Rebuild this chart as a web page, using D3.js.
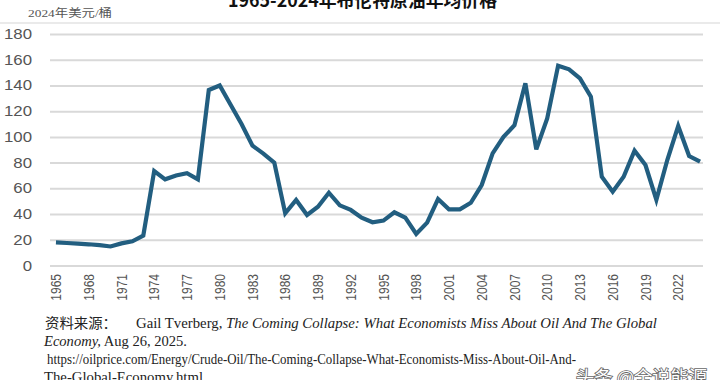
<!DOCTYPE html>
<html><head><meta charset="utf-8">
<script src="https://cdn.jsdelivr.net/npm/d3@7/dist/d3.min.js"></script>
<style>
html,body{margin:0;padding:0;background:#fff;}
svg{display:block;}
</style></head>
<body>
<svg id="chart" width="720" height="380"></svg>
<script>
const years = [1965,1966,1967,1968,1969,1970,1971,1972,1973,1974,1975,1976,1977,1978,1979,
  1980,1981,1982,1983,1984,1985,1986,1987,1988,1989,1990,1991,1992,1993,1994,
  1995,1996,1997,1998,1999,2000,2001,2002,2003,2004,2005,2006,2007,2008,2009,
  2010,2011,2012,2013,2014,2015,2016,2017,2018,2019,2020,2021,2022,2023,2024];
const prices = [18.0,17.5,17.0,16.5,15.8,14.8,17.2,18.8,23.2,73.5,67,70,71.7,67,136.5,
  140,125,110,93.2,87,80,40.6,51,39.3,45.7,56.6,46.8,43.2,37.2,33.6,
  34.9,41.4,37.2,24.5,33.3,51.7,43.7,43.7,48.8,62.6,87.2,100,109,141.7,90.3,
  114.4,155.4,152.5,145.5,131.3,69,57.4,69,89.3,78.1,51,82,108.5,85.1,80.7];
const xTickYears = [1965,1968,1971,1974,1977,1980,1983,1986,1989,1992,1995,1998,2001,2004,2007,2010,2013,2016,2019,2022];
const yTicks = [0,20,40,60,80,100,120,140,160,180];
const titleText = "1965-2024年布伦特原油年均价格";
const unitText = "2024年美元/桶";
const sourceLabel = "资料来源：";
const watermark = "头条 @全说能源";

const svg = d3.select("#chart");
const x = d3.scaleBand().domain(years).range([50.5, 705.5]).padding(0);
const xc = d => x(d) + x.bandwidth()/2;
const y = d3.scaleLinear().domain([0,180]).range([265.5, 34]);

// top separator line
svg.append("line").attr("x1",0).attr("x2",720).attr("y1",23).attr("y2",23)
  .attr("stroke","#e3e3e3").attr("stroke-width",1.5);

// title
svg.append("text").attr("x",228).attr("y",6.5)
  .attr("textLength",269).attr("lengthAdjust","spacingAndGlyphs")
  .attr("font-family","'Noto Sans CJK SC', sans-serif").attr("font-weight","bold")
  .attr("font-size",18).attr("fill","#111").text(titleText);

// unit
svg.append("text").attr("x",28).attr("y",17)
  .attr("textLength",84).attr("lengthAdjust","spacingAndGlyphs")
  .attr("font-family","'Liberation Serif','Noto Sans CJK SC', serif")
  .attr("font-size",11).attr("fill","#555").text(unitText);

// gridlines via axis
const gAxisY = svg.append("g").attr("transform","translate(50,0)")
  .call(d3.axisLeft(y).tickValues(yTicks).tickSize(-653).tickFormat(""));
gAxisY.select(".domain").remove();
gAxisY.selectAll(".tick line").attr("stroke","#d9d9d9").attr("stroke-width",2);

// y labels
svg.append("g").selectAll("text").data(yTicks).join("text")
  .attr("transform", d => `translate(32,${y(d)}) scale(1.2,1)`)
  .attr("dy","0.36em").attr("text-anchor","end")
  .attr("font-family","'Liberation Sans', Arial, sans-serif").attr("font-size",14)
  .attr("fill","#555").text(d => d);

// x labels
svg.append("g").selectAll("text").data(xTickYears).join("text")
  .attr("transform", d => `translate(${xc(d)},274) scale(1.2,1) rotate(-90)`)
  .attr("dy","0.36em").attr("text-anchor","end")
  .attr("font-family","'Liberation Sans', Arial, sans-serif").attr("font-size",12)
  .attr("fill","#555").text(d => d);

// line
const line = d3.line().x((d,i) => xc(years[i])).y(d => y(d));
svg.append("path").datum(prices).attr("d",line)
  .attr("fill","none").attr("stroke","#225e80").attr("stroke-width",4.2)
  .attr("stroke-linejoin","miter").attr("stroke-linecap","butt");

// footer
const serif = "'Liberation Serif','Times New Roman', serif";
svg.append("text").attr("x",45).attr("y",328.3)
  .attr("textLength",72).attr("lengthAdjust","spacingAndGlyphs")
  .attr("font-family","'Noto Sans CJK SC', serif").attr("font-size",14).attr("fill","#222")
  .text(sourceLabel);
const t1 = svg.append("text").attr("x",136).attr("y",328.3)
  .attr("textLength",521).attr("lengthAdjust","spacingAndGlyphs")
  .attr("font-family",serif).attr("font-size",15.5).attr("fill","#222");
t1.append("tspan").text("Gail Tverberg, ");
t1.append("tspan").attr("font-style","italic").text("The Coming Collapse: What Economists Miss About Oil And The Global");
const t2 = svg.append("text").attr("x",44).attr("y",345.7)
  .attr("textLength",143).attr("lengthAdjust","spacingAndGlyphs")
  .attr("font-family",serif).attr("font-size",15.5).attr("fill","#222");
t2.append("tspan").attr("font-style","italic").text("Economy,");
t2.append("tspan").text(" Aug 26, 2025.");
svg.append("text").attr("x",47).attr("y",364.3)
  .attr("textLength",529).attr("lengthAdjust","spacingAndGlyphs")
  .attr("font-family",serif).attr("font-size",15.5).attr("fill","#222")
  .text("https://oilprice.com/Energy/Crude-Oil/The-Coming-Collapse-What-Economists-Miss-About-Oil-And-");
svg.append("text").attr("x",44).attr("y",382)
  .attr("textLength",159).attr("lengthAdjust","spacingAndGlyphs")
  .attr("font-family",serif).attr("font-size",15.5).attr("fill","#222")
  .text("The-Global-Economy.html");

// watermark
svg.append("text").attr("x",576).attr("y",384)
  .attr("textLength",131).attr("lengthAdjust","spacingAndGlyphs")
  .attr("font-family","'Noto Sans CJK SC', sans-serif").attr("font-size",18)
  .attr("fill","#fff").attr("stroke","#666").attr("stroke-width",1.6)
  .attr("paint-order","stroke").text(watermark);
</script>
</body></html>
